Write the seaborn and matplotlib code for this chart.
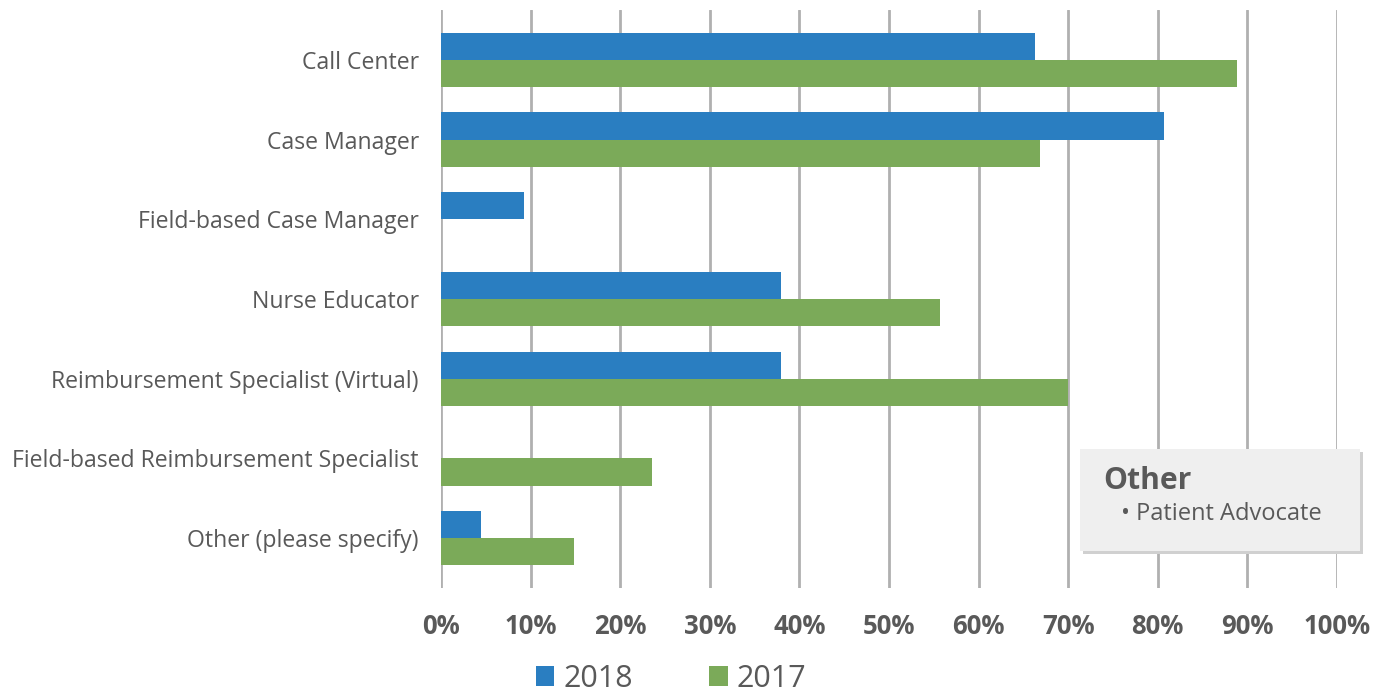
import numpy as np
import pandas as pd
import matplotlib
matplotlib.use("Agg")
import matplotlib.pyplot as plt
from matplotlib.patches import Rectangle
import seaborn as sns

categories = ["Call Center", "Case Manager", "Field-based Case Manager",
              "Nurse Educator", "Reimbursement Specialist (Virtual)",
              "Field-based Reimbursement Specialist", "Other (please specify)"]
vals_2018 = [66.3, 80.7, 9.3, 37.9, 37.9, 0.0, 4.5]
vals_2017 = [88.8, 66.8, 0.0, 55.7, 70.0, 23.5, 14.8]
years = ["2018", "2017"]
x_ticks = [0, 10, 20, 30, 40, 50, 60, 70, 80, 90, 100]
note_title = "Other"
note_items = ["Patient Advocate"]

df = pd.DataFrame({
    "category": categories * 2,
    "value": vals_2018 + vals_2017,
    "year": [years[0]] * len(categories) + [years[1]] * len(categories),
})

sns.set_theme(style="white")
plt.rcParams['font.family'] = ['Open Sans', 'DejaVu Sans']
txt = "#595959"

fig = plt.figure(figsize=(13.89, 6.94), dpi=100)
ax = fig.add_axes([441/1389, 1-588/694, (1337-441)/1389, (588-10)/694])

sns.barplot(data=df, y="category", x="value", hue="year", orient="h",
            palette={"2018": "#2A7EC1", "2017": "#7BAA59"},
            width=0.68, saturation=1, linewidth=0, ax=ax)

ax.set_xlim(0, 100)
ax.set_ylim(6.625, -0.625)
ax.set_xticks(x_ticks)
ax.set_xticklabels([f"{t}%" for t in x_ticks], fontsize=18.5, fontweight="bold", color=txt)
ax.tick_params(axis="y", labelsize=16.6, labelcolor=txt, length=0, pad=16)
ax.tick_params(axis="x", length=0, pad=18)
ax.set_xlabel("")
ax.set_ylabel("")
for s in ax.spines.values():
    s.set_visible(False)
ax.grid(axis="x", color="#B0B0B0", linewidth=2)
ax.set_axisbelow(True)

handles, labels = ax.get_legend_handles_labels()
ax.get_legend().remove()
fig.legend(handles, labels, loc="center", bbox_to_anchor=(671/1389, 1-679/694),
           ncol=2, frameon=False, fontsize=22, labelcolor=txt,
           handlelength=0.6, handleheight=0.65, handletextpad=0.3,
           columnspacing=2.5)

# note box
x0, y0, w, h = 1080/1389, 1-551/694, 280/1389, 102/694
fig.patches.append(Rectangle((x0 + 3/1389, y0 - 3/694), w, h, transform=fig.transFigure,
                             facecolor="#D0D0D0", edgecolor="none", zorder=5))
fig.patches.append(Rectangle((x0, y0), w, h, transform=fig.transFigure,
                             facecolor="#EFEFEF", edgecolor="none", zorder=6))
fig.text(1103/1389, 1-481/694, note_title, fontsize=21.7, fontweight="bold",
         color=txt, va="center", ha="left", zorder=7)
for i, item in enumerate(note_items):
    fig.text(1121/1389, 1-(514 + 30*i)/694, "\u2022 " + item, fontsize=17,
             color=txt, va="center", ha="left", zorder=7)

fig.savefig("out.png", dpi=100)
